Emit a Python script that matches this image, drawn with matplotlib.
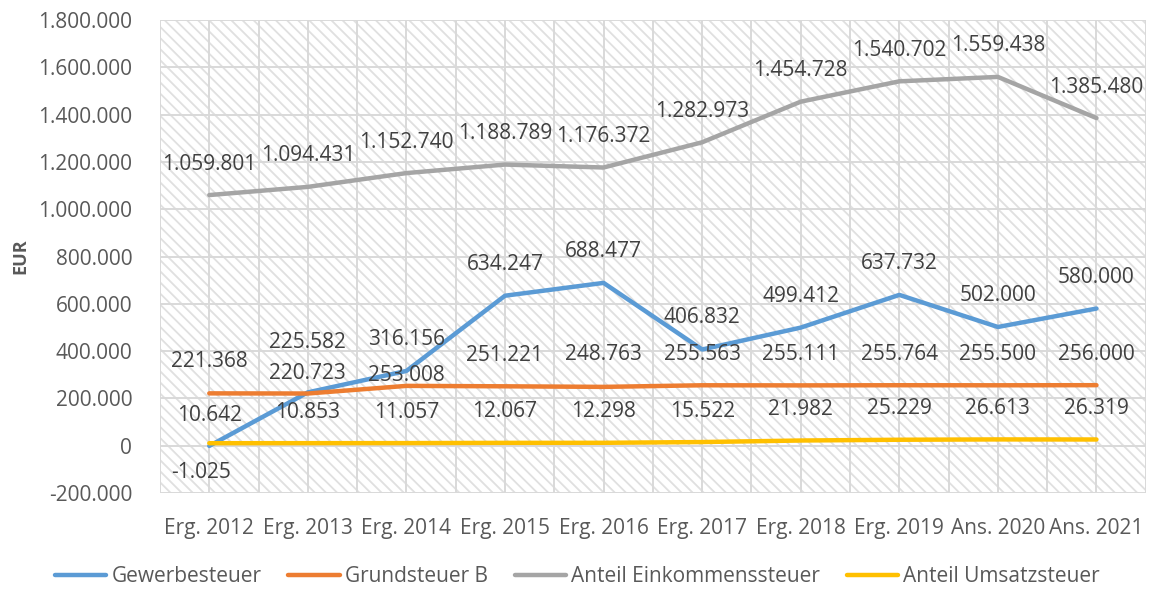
import matplotlib
matplotlib.use('Agg')
import matplotlib.pyplot as plt
from matplotlib.patches import Rectangle
from matplotlib.ticker import FuncFormatter, MultipleLocator

plt.rcParams['font.family'] = ['Open Sans', 'DejaVu Sans']
plt.rcParams['hatch.linewidth'] = 1.3

# Daten
kategorien = ['Erg. 2012', 'Erg. 2013', 'Erg. 2014', 'Erg. 2015', 'Erg. 2016',
              'Erg. 2017', 'Erg. 2018', 'Erg. 2019', 'Ans. 2020', 'Ans. 2021']
gewerbesteuer = [-1025, 225582, 316156, 634247, 688477, 406832, 499412, 637732, 502000, 580000]
grundsteuer_b = [221368, 220723, 253008, 251221, 248763, 255563, 255111, 255764, 255500, 256000]
einkommensteuer = [1059801, 1094431, 1152740, 1188789, 1176372, 1282973, 1454728, 1540702, 1559438, 1385480]
umsatzsteuer = [10642, 10853, 11057, 12067, 12298, 15522, 21982, 25229, 26613, 26319]

# Beschriftungs-Abstaende in Pixel (manuell verschoben wie im Original)
off_gew = [-27, 50, 31, 31, 31, 32, 31, 31, 31, 31]
off_grund = [32, 20, 10, 31, 32, 31, 31, 31, 31, 31]
off_eink = [31, 31, 31, 31, 31, 31, 31, 31, 31, 31]
off_ums = [28, 31, 31, 31, 31, 31, 31, 31, 31, 31]

reihen = [
    ('Gewerbesteuer', gewerbesteuer, '#5B9BD5', off_gew),
    ('Grundsteuer B', grundsteuer_b, '#ED7D31', off_grund),
    ('Anteil Einkommenssteuer', einkommensteuer, '#A5A5A5', off_eink),
    ('Anteil Umsatzsteuer', umsatzsteuer, '#FFC000', off_ums),
]

def fmt(v):
    return f'{v:,.0f}'.replace(',', '.')

fig = plt.figure(figsize=(11.55, 5.92), dpi=100)
ax = fig.add_axes([0.1385, 0.1672, 0.8535, 0.799])

# schraffierter Hintergrund
ax.add_patch(Rectangle((0, 0), 1, 1, transform=ax.transAxes, facecolor='white',
                       edgecolor='#E0E0E0', hatch='\\\\\\', linewidth=0, zorder=0))

x = list(range(len(kategorien)))
for name, werte, farbe, offs in reihen:
    ax.plot(x, werte, color=farbe, lw=3.2, solid_capstyle='round',
            solid_joinstyle='round', label=name, zorder=3)
    for xi, v, o in zip(x, werte, offs):
        dx = -8 if (name == 'Gewerbesteuer' and xi == 0) else 0
        ax.annotate(fmt(v), (xi, v), xytext=(dx, o), textcoords='offset pixels',
                    ha='center', va='center', fontsize=15, color='#404040', zorder=4)

ax.set_xlim(-0.5, len(kategorien) - 0.5)
ax.set_ylim(-200000, 1800000)
ax.yaxis.set_major_locator(MultipleLocator(200000))
ax.yaxis.set_major_formatter(FuncFormatter(lambda v, p: fmt(v)))
ax.set_xticks(x)
ax.set_xticklabels(kategorien)
ax.tick_params(axis='both', length=0, labelsize=15, labelcolor='#595959')
ax.tick_params(axis='x', pad=18)
ax.tick_params(axis='y', pad=20)

# Gitternetz
for yv in range(-200000, 1800001, 200000):
    ax.axhline(yv, color='#D9D9D9', lw=1.4, zorder=1)
for k in range(2 * len(kategorien) + 1):
    ax.axvline(-0.5 + k * 0.5, color='#D9D9D9', lw=1.4, zorder=1)
for s in ax.spines.values():
    s.set_visible(False)

ax.set_ylabel('EUR', fontsize=13, fontweight='bold', color='#595959', labelpad=6)

fig.legend(loc='center', bbox_to_anchor=(0.5, 0.026), ncol=4, frameon=False,
           fontsize=15, handlelength=2.45, columnspacing=1.3, handletextpad=0.25,
           labelcolor='#595959')

fig.savefig('out.png', dpi=100)
